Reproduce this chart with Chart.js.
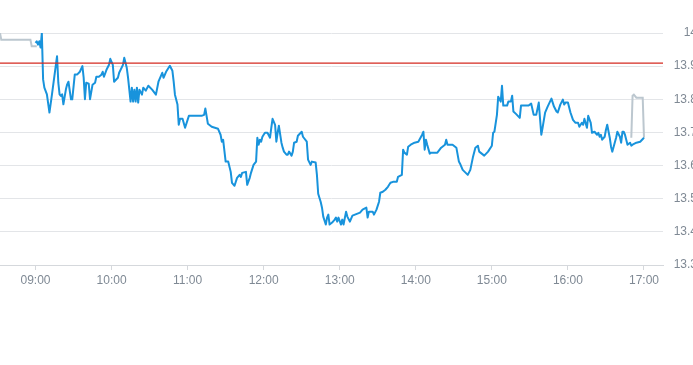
<!DOCTYPE html>
<html>
<head>
<meta charset="utf-8">
<script src="https://cdn.jsdelivr.net/npm/chart.js@4.4.1/dist/chart.umd.min.js"></script>
<style>
  html, body { margin: 0; padding: 0; background: #fff; overflow: hidden; }
  #wrap { width: 697px; height: 365px; position: relative; }
</style>
</head>
<body>
<div id="wrap"><canvas id="grafico"></canvas></div>
<script>
// intraday prices (blue)
const horas = [
  "09:00","09:01","09:02","09:03","09:04","09:05","09:06","09:07","09:09","09:11",
  "09:13","09:17","09:18","09:19","09:20","09:21","09:22","09:24","09:25","09:26",
  "09:28","09:29","09:31","09:33","09:35","09:37","09:38","09:39","09:40","09:42",
  "09:43","09:45","09:47","09:48","09:50","09:52","09:53","09:54","09:56","09:58",
  "09:59","10:01","10:02","10:05","10:06","10:09","10:10","10:12","10:13","10:15",
  "10:16","10:17","10:18","10:19","10:20","10:21","10:22","10:24","10:25","10:27",
  "10:29","10:32","10:35","10:37","10:40","10:41","10:43","10:46","10:48","10:49",
  "10:50","10:52","10:53","10:54","10:56","10:58","11:01","11:04","11:11","11:13",
  "11:14","11:16","11:19","11:24","11:26","11:27","11:28","11:30","11:32","11:34",
  "11:35","11:37","11:39","11:41","11:42","11:43","11:46","11:47","11:49","11:50",
  "11:52","11:54","11:55","11:56","11:57","11:58","11:59","12:00","12:01","12:03",
  "12:05","12:06","12:07","12:09","12:10","12:11","12:12","12:14","12:15","12:16",
  "12:18","12:19","12:20","12:22","12:23","12:24","12:26","12:27","12:30","12:31",
  "12:34","12:35","12:37","12:38","12:41","12:42","12:43","12:45","12:46","12:47",
  "12:49","12:50","12:51","12:52","12:54","12:56","12:57","12:58","12:59","13:01",
  "13:02","13:03","13:05","13:06","13:08","13:10","13:12","13:16","13:18","13:21",
  "13:22","13:23","13:26","13:27","13:29","13:31","13:32","13:34","13:36","13:38",
  "13:40","13:42","13:45","13:46","13:49","13:50","13:51","13:53","13:54","13:56",
  "13:59","14:02","14:05","14:06","14:07","14:08","14:09","14:11","14:12","14:17",
  "14:20","14:23","14:24","14:25","14:29","14:32","14:34","14:35","14:37","14:41",
  "14:43","14:45","14:47","14:49","14:50","14:52","14:54","14:57","15:00","15:01",
  "15:02","15:04","15:05","15:07","15:08","15:09","15:12","15:13","15:15","15:16",
  "15:17","15:19","15:22","15:23","15:26","15:29","15:31","15:33","15:35","15:37",
  "15:39","15:40","15:42","15:44","15:47","15:49","15:51","15:52","15:54","15:56",
  "15:57","15:58","16:00","16:02","16:04","16:06","16:08","16:09","16:11","16:12",
  "16:13","16:15","16:16","16:18","16:19","16:21","16:23","16:24","16:25","16:26",
  "16:27","16:29","16:30","16:31","16:33","16:34","16:35","16:38","16:39","16:41",
  "16:42","16:43","16:44","16:45","16:47","16:49","16:50","16:51","16:54","16:57",
  "17:00"
];
const precios = [
  13.97,13.975,13.965,13.975,13.956,14.00,13.86,13.835,13.815,13.76,
  13.815,13.93,13.85,13.815,13.81,13.815,13.785,13.83,13.845,13.853,
  13.80,13.80,13.875,13.875,13.883,13.90,13.865,13.80,13.85,13.847,
  13.80,13.844,13.85,13.868,13.868,13.874,13.883,13.868,13.889,13.904,
  13.922,13.904,13.853,13.865,13.88,13.904,13.925,13.895,13.865,13.793,
  13.835,13.793,13.829,13.793,13.835,13.79,13.829,13.814,13.835,13.826,
  13.841,13.829,13.814,13.853,13.88,13.865,13.883,13.901,13.886,13.853,
  13.814,13.784,13.723,13.741,13.741,13.714,13.75,13.75,13.75,13.753,
  13.772,13.726,13.717,13.711,13.693,13.672,13.678,13.612,13.612,13.581,
  13.548,13.539,13.563,13.572,13.566,13.578,13.581,13.542,13.563,13.578,
  13.602,13.612,13.684,13.663,13.678,13.672,13.687,13.693,13.699,13.699,
  13.684,13.714,13.741,13.723,13.672,13.699,13.72,13.669,13.654,13.642,
  13.633,13.633,13.642,13.63,13.642,13.669,13.672,13.69,13.702,13.687,
  13.672,13.618,13.602,13.612,13.609,13.572,13.515,13.49,13.473,13.446,
  13.422,13.443,13.452,13.422,13.428,13.437,13.443,13.431,13.443,13.422,
  13.437,13.422,13.461,13.446,13.431,13.449,13.452,13.458,13.467,13.473,
  13.443,13.461,13.461,13.452,13.467,13.491,13.518,13.521,13.527,13.536,
  13.548,13.551,13.551,13.566,13.572,13.648,13.639,13.633,13.657,13.663,
  13.669,13.672,13.693,13.702,13.648,13.678,13.663,13.636,13.639,13.639,
  13.654,13.663,13.678,13.663,13.663,13.654,13.612,13.605,13.587,13.572,
  13.587,13.624,13.654,13.66,13.642,13.636,13.63,13.642,13.66,13.699,
  13.702,13.753,13.808,13.793,13.841,13.781,13.781,13.793,13.793,13.811,
  13.763,13.756,13.744,13.781,13.781,13.781,13.787,13.753,13.753,13.79,
  13.693,13.714,13.76,13.778,13.802,13.778,13.763,13.76,13.784,13.799,
  13.784,13.79,13.79,13.76,13.738,13.729,13.729,13.717,13.729,13.723,
  13.741,13.714,13.75,13.729,13.699,13.702,13.693,13.699,13.687,13.693,
  13.678,13.687,13.708,13.723,13.684,13.657,13.642,13.684,13.702,13.687,
  13.669,13.702,13.702,13.693,13.663,13.669,13.66,13.663,13.669,13.672,
  13.684
];
// pre / post market (gray)
const horasPre = ["08:32","08:33","08:56","08:57","09:01"];
const preciosPre = [14.00, 13.98, 13.98, 13.96, 13.96];
const horasPost = ["16:50","16:51","16:52","16:54","16:59","17:00"];
const preciosPost = [13.684, 13.811, 13.814, 13.805, 13.805, 13.684];

const cierreAnterior = 13.91;
const etiquetasX = ["09:00","10:00","11:00","12:00","13:00","14:00","15:00","16:00","17:00"];
const ticksY = [13.3, 13.4, 13.5, 13.6, 13.7, 13.8, 13.9, 14];

function aMinutos(h) {
  return parseInt(h.slice(0, 2)) * 60 + parseInt(h.slice(3));
}
function puntos(hs, vs) {
  return hs.map((h, i) => ({ x: aMinutos(h), y: vs[i] }));
}

// linea del cierre anterior
const lineaCierre = {
  id: "lineaCierre",
  afterDraw(chart) {
    const c = chart.ctx;
    const area = chart.chartArea;
    const y = Math.round(chart.scales.y.getPixelForValue(cierreAnterior));
    c.save();
    c.strokeStyle = "#d42a20";
    c.lineWidth = 1.25;
    c.beginPath();
    c.moveTo(area.left, y);
    c.lineTo(area.right, y);
    c.stroke();
    c.restore();
  },
};

const ctx = document.getElementById("grafico").getContext("2d");
new Chart(ctx, {
  type: "line",
  data: {
    datasets: [
      {
        data: puntos(horas, precios),
        borderColor: "#1893dc",
        borderWidth: 2,
        pointRadius: 0,
        tension: 0,
        borderJoinStyle: "round",
      },
      {
        data: puntos(horasPre, preciosPre),
        borderColor: "#bcc7cf",
        borderWidth: 2,
        pointRadius: 0,
        tension: 0,
      },
      {
        data: puntos(horasPost, preciosPost),
        borderColor: "#bcc7cf",
        borderWidth: 2,
        pointRadius: 0,
        tension: 0,
      },
    ],
  },
  options: {
    responsive: true,
    maintainAspectRatio: false,
    animation: false,
    layout: { padding: { top: 33, left: 0, right: 0, bottom: 0 } },
    plugins: { legend: { display: false }, tooltip: { enabled: false } },
    scales: {
      x: {
        type: "linear",
        min: aMinutos("08:32"),
        max: aMinutos("17:15"),
        afterBuildTicks: (s) => {
          s.ticks = etiquetasX.map((h) => ({ value: aMinutos(h) }));
        },
        afterFit: (s) => {
          s.height = 100;
        },
        ticks: {
          autoSkip: false,
          maxRotation: 0,
          padding: 3,
          color: "#7f8994",
          font: { family: "Liberation Sans", size: 12 },
          callback: (v) => {
            const h = Math.floor(v / 60), m = v % 60;
            return String(h).padStart(2, "0") + ":" + String(m).padStart(2, "0");
          },
        },
        grid: {
          drawOnChartArea: false,
          drawTicks: true,
          tickLength: 5,
          color: "#d5d8dc",
        },
        border: { color: "#d5d8dc" },
      },
      y: {
        position: "right",
        min: 13.3,
        max: 14,
        afterBuildTicks: (s) => {
          s.ticks = ticksY.map((v) => ({ value: v }));
        },
        afterFit: (s) => {
          s.width = 34;
        },
        ticks: {
          padding: 0,
          crossAlign: "far",
          color: "#7f8994",
          font: { family: "Liberation Sans", size: 12 },
          callback: (v) => String(+v.toFixed(1)),
        },
        grid: { color: "#e3e5e8", drawTicks: false },
        border: { display: false },
      },
    },
  },
  plugins: [lineaCierre],
});
</script>
</body>
</html>
